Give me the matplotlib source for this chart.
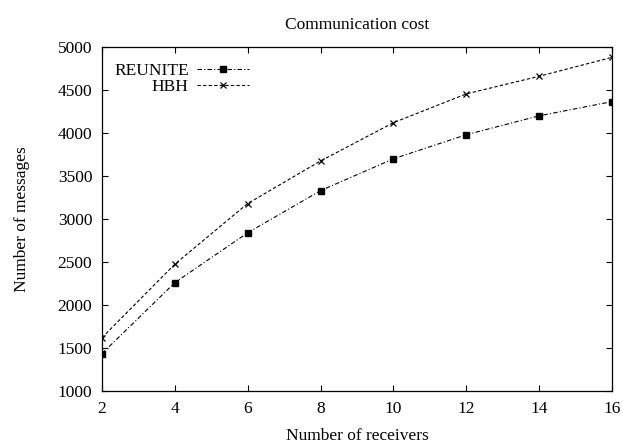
import matplotlib
matplotlib.use("Agg")
import matplotlib.pyplot as plt

receivers = [2, 4, 6, 8, 10, 12, 14, 16]
reunite = [1435, 2260, 2840, 3330, 3700, 3980, 4200, 4365]
hbh = [1620, 2475, 3180, 3675, 4120, 4455, 4660, 4880]

plt.rcParams["font.family"] = ["Liberation Serif", "DejaVu Serif"]
plt.rcParams["font.size"] = 12.5

fig = plt.figure(figsize=(6.23, 4.44), dpi=100)
ax = fig.add_axes([0.1637, 0.1194, 0.8186, 0.7747])

ax.plot(receivers, reunite, color="black", linewidth=0.8,
        dashes=[4, 2, 1, 2], marker="s", markersize=5, label="REUNITE")
ax.plot(receivers, hbh, color="black", linewidth=0.8,
        dashes=[3, 2], marker="x", markersize=5, markeredgewidth=0.9, label="HBH")

ax.set_xlim(2, 16)
ax.set_ylim(1000, 5000)
ax.set_xticks(range(2, 17, 2))
ax.set_yticks(range(1000, 5001, 500))
ax.tick_params(direction="in", top=True, right=True, length=4.5, width=0.8, pad=7)
for s in ax.spines.values():
    s.set_linewidth(0.9)

ax.set_title("Communication cost", fontsize=12.5, pad=13)
ax.set_xlabel("Number of receivers", labelpad=8)
ax.set_ylabel("Number of messages", labelpad=20)

ax.legend(loc="upper left", frameon=False, markerfirst=False, handlelength=3.0,
          handletextpad=0.5, labelspacing=0.0, borderaxespad=0.0,
          bbox_to_anchor=(0.01, 0.975))

fig.savefig("out.png", dpi=100)
